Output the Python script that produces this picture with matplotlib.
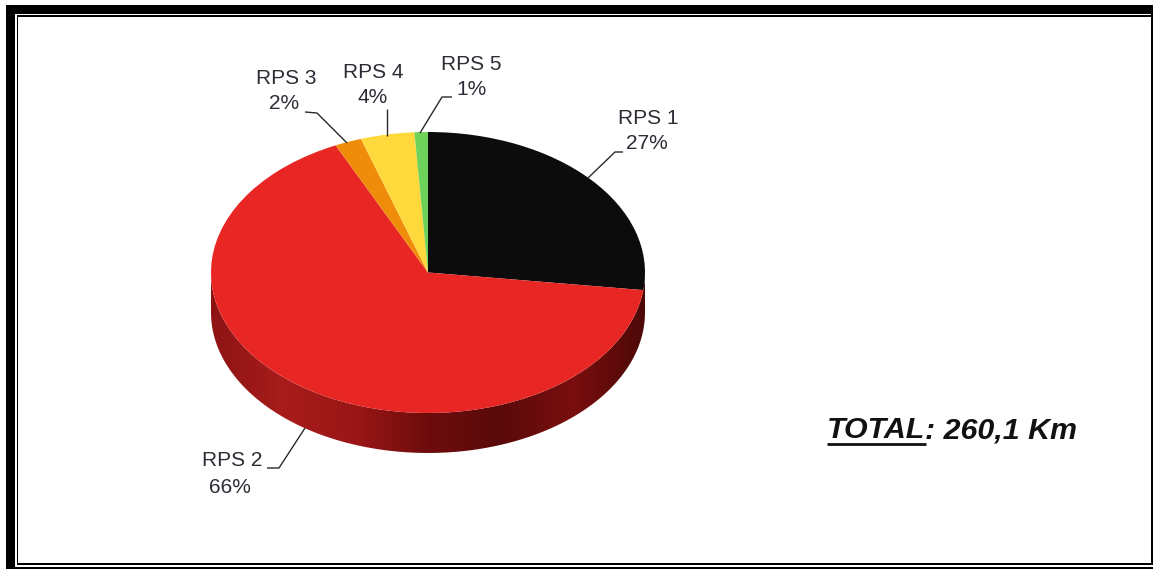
"""
Pie of road length by RPS class, with a drawn side wall
"""

import numpy as np
import matplotlib
matplotlib.use('Agg')
import matplotlib.pyplot as plt
from matplotlib.colors import LinearSegmentedColormap
from matplotlib.patches import Rectangle, PathPatch
from matplotlib.path import Path

plt.rcParams['font.family'] = ['Liberation Sans', 'DejaVu Sans']

W = 1153
H = 569

### DATA
names = ['RPS 1', 'RPS 2', 'RPS 3', 'RPS 4', 'RPS 5']
shares = [27, 66, 2, 4, 1]
colors = ['#0c0c0c', '#e82624', '#ef8c0a', '#ffd93c', '#6ed25a']
total_bold = 'TOTAL'
total_rest = ': 260,1 Km'

### Label placement in pixels
name_x = [648, 232, 286, 373, 471]
name_y = [118, 460, 78, 72, 64]
pct_x = [647, 230, 284, 373, 471]
pct_y = [143, 487, 103, 97, 89]
leaders = [
    [(623, 152), (615, 152), (588, 178)],
    [(267, 468), (279, 468), (305, 428)],
    [(305, 112), (317, 113), (347, 143)],
    [(387, 109), (387, 136)],
    [(452, 97), (442, 97), (420, 133)],
]

### Wall shading, left to right
wall_colors = ['#8e1414', '#a81c1c', '#9a1616', '#6e0c0c', '#5a0a0a', '#7a0e0e', '#4e0808']

fig = plt.figure(figsize=(W/100, H/100), dpi=100, facecolor='white')

### Pie axes, the top face spans y 132-413 and the wall reaches 453
left, right, top, bottom = 211, 645, 132, 453
depth = 40/140.5
ax = fig.add_axes([left/W, 1 - bottom/H, (right - left)/W, (bottom - top)/H])
ax.pie(shares, colors=colors, startangle=90, counterclock=False, radius=1,
       wedgeprops={'linewidth': 0, 'zorder': 3})

### Side wall
cmap = LinearSegmentedColormap.from_list('wall', wall_colors)
grad = np.linspace(0, 1, 400).reshape(1, -1)
im = ax.imshow(grad, cmap=cmap, extent=(-1, 1, -1 - depth, 0), aspect='auto', zorder=1)
theta = np.linspace(np.pi, 2*np.pi, 200)
xrim = np.cos(theta)
yrim = np.sin(theta)
wall_x = np.concatenate([xrim, xrim[::-1]])
wall_y = np.concatenate([yrim - depth, yrim[::-1]])
wall = PathPatch(Path(np.column_stack([wall_x, wall_y])), transform=ax.transData,
                 facecolor='none', edgecolor='none')
ax.add_patch(wall)
im.set_clip_path(wall)

ax.set_aspect('auto')
ax.set_xlim(-1, 1)
ax.set_ylim(-1 - depth, 1)
ax.axis('off')

### Overlay in pixel coordinates for the frame, leaders and labels
ov = fig.add_axes([0, 0, 1, 1], facecolor='none')
ov.set_xlim(0, W)
ov.set_ylim(H, 0)
ov.axis('off')

### Frame: heavy band top and left, thin line inside it, thin edges right and bottom
bands = [
    (6, 5, 1147, 8.7), (6, 5, 9, 564),
    (16.7, 15.2, 1136.3, 1.6), (16.7, 15.2, 1.6, 549.8),
    (16.7, 563, 1136.3, 2), (1151, 5, 2, 560),
    (6, 567, 1147, 2),
]
for x, y, w, h in bands:
    ov.add_patch(Rectangle((x, y), w, h, facecolor='black', edgecolor='none'))

### Labels and leader lines
text_color = '#2c2c36'
for i in range(len(names)):
    ov.text(name_x[i], name_y[i], names[i], fontsize=15, color=text_color,
            ha='center', va='center')
    ov.text(pct_x[i], pct_y[i], str(shares[i]) + '%', fontsize=15, color=text_color,
            ha='center', va='center')
    xs, ys = zip(*leaders[i])
    ov.plot(xs, ys, color='#2a2a2a', lw=1.0, solid_capstyle='butt')

### Total, underlined by hand
t1 = ov.text(827, 430, total_bold, fontsize=21.9, fontweight='bold', fontstyle='italic',
             color='#111111', ha='left', va='center')
fig.canvas.draw()
x_end = t1.get_window_extent().x1
ov.text(x_end, 430, total_rest, fontsize=21.9, fontweight='bold', fontstyle='italic',
        color='#111111', ha='left', va='center')
ov.plot([827, x_end + 1], [444, 444], color='#111111', lw=2.0, solid_capstyle='butt')

fig.savefig('out.png', dpi=100)
